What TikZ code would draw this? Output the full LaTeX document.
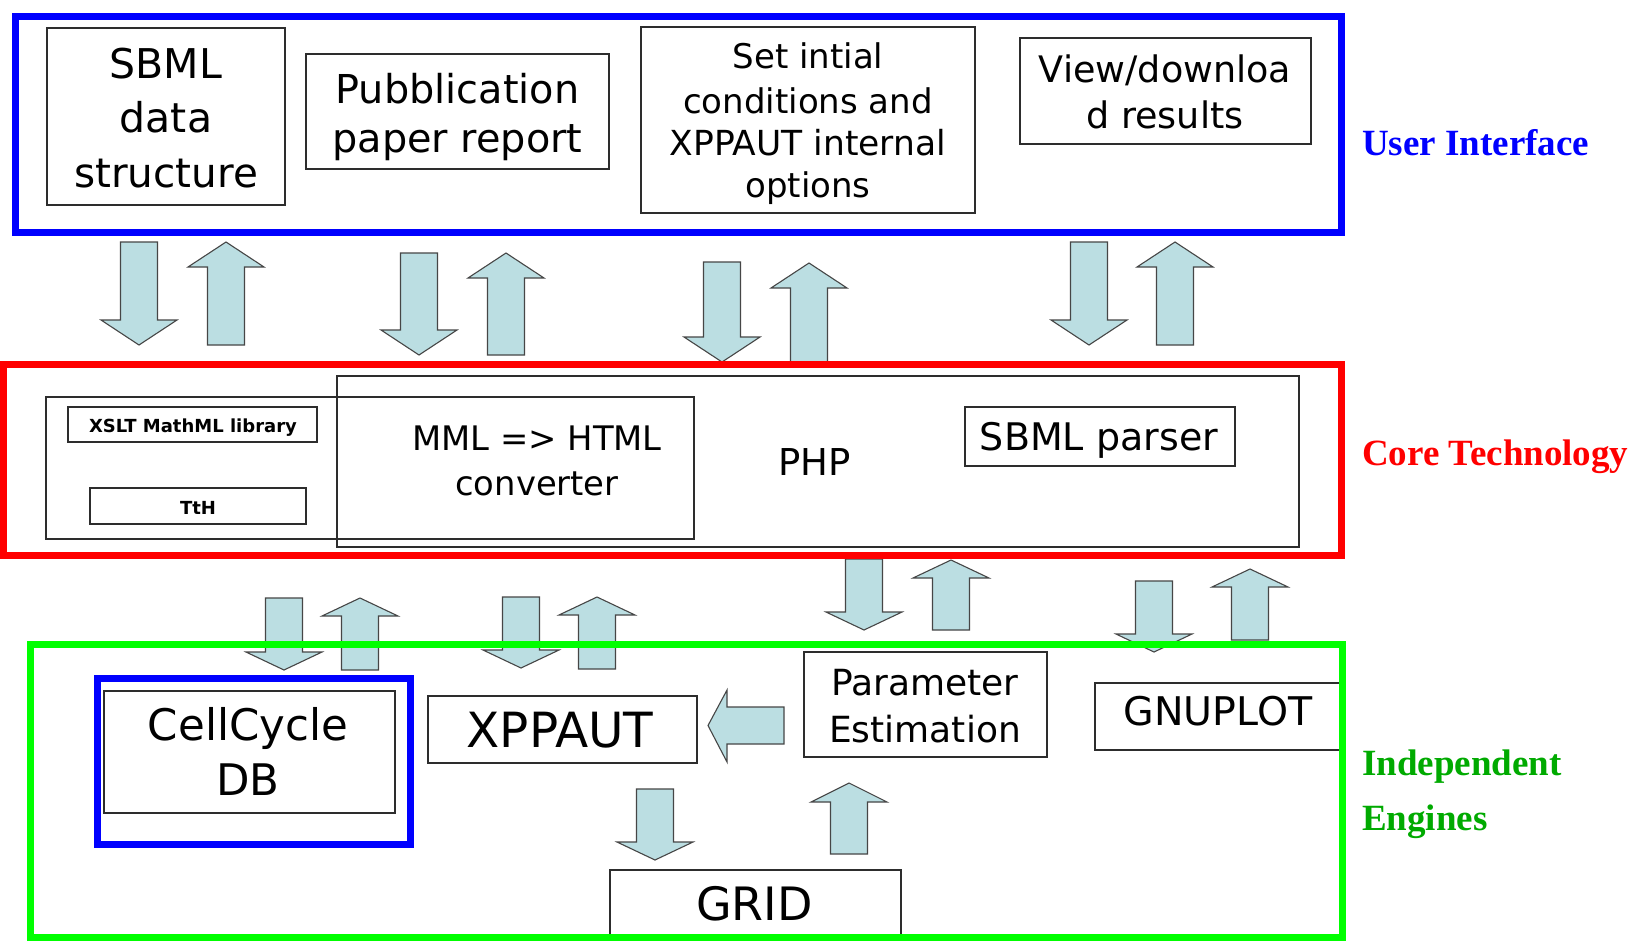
\documentclass[tikz,border=0pt]{standalone}
\usepackage{fontspec}
\setmainfont{DejaVu Sans}
\newfontfamily\tmsfont{Liberation Serif}
\definecolor{arrfill}{RGB}{187,222,226}
\definecolor{arrline}{RGB}{70,70,70}
\definecolor{boxline}{RGB}{45,45,45}
\definecolor{uiblue}{RGB}{0,0,255}
\definecolor{ctred}{RGB}{255,0,0}
\definecolor{iegreen}{RGB}{0,255,0}
\definecolor{ietext}{RGB}{0,170,0}
\newcommand\fsz[1]{\fontsize{#1}{#1}\selectfont}
\newcommand\txtline[5]{\node[anchor=base,inner sep=0pt,font={#4}] (#1) at (#2,#3) {#5};}
% down arrow: cx, top, tip, head length
\newcommand\arrdown[4]{\path[blockarr] (#1-18.5,#2) -- (#1+18.5,#2) -- (#1+18.5,#3-#4) -- (#1+38,#3-#4) -- (#1,#3) -- (#1-38,#3-#4) -- (#1-18.5,#3-#4) -- cycle;}
% up arrow: cx, bottom, tip, head length
\newcommand\arrup[4]{\path[blockarr] (#1-18.5,#2) -- (#1+18.5,#2) -- (#1+18.5,#3+#4) -- (#1+38,#3+#4) -- (#1,#3) -- (#1-38,#3+#4) -- (#1-18.5,#3+#4) -- cycle;}
\tikzset{
  box/.style={draw=boxline,line width=1.4pt,inner sep=0pt,rectangle},
  blockarr/.style={fill=arrfill,draw=arrline,line width=1.1pt,line join=miter},
  frame/.style={line width=7pt},
  lbl/.style={anchor=base west,inner sep=0pt,font={\tmsfont\bfseries\fsz{37}}}
}
\begin{document}
\begin{tikzpicture}[x=1pt,y=-1pt]
\useasboundingbox (0,0) rectangle (1637,940);
\fill[white] (0,0) rectangle (1637,940);

% ---------- User interface boxes
\node[box,minimum width=238pt,minimum height=177pt] (sbml) at (166,116.5) {};
\txtline{sbmlA}{166}{78}{\fsz{41}}{SBML}
\txtline{sbmlB}{166}{132}{\fsz{41}}{data}
\txtline{sbmlC}{166}{187}{\fsz{40.5}}{structure}

\node[box,minimum width=303pt,minimum height=115pt] (pub) at (457.5,111.5) {};
\txtline{pubA}{457.5}{103}{\fsz{39.8}}{Pubblication}
\txtline{pubB}{457.5}{152}{\fsz{39.8}}{paper report}

\node[box,minimum width=334pt,minimum height=186pt] (set) at (808,120) {};
\txtline{setA}{808}{68}{\fsz{34}}{Set intial}
\txtline{setB}{808}{113}{\fsz{34}}{conditions and}
\txtline{setC}{808}{155}{\fsz{34.5}}{XPPAUT internal}
\txtline{setD}{808}{197}{\fsz{34}}{options}

\node[box,minimum width=291pt,minimum height=106pt] (view) at (1165.5,91) {};
\txtline{viewA}{1165}{82}{\fsz{36.5}}{View/downloa}
\txtline{viewB}{1165}{128}{\fsz{36.5}}{d results}

% ---------- Core technology boxes
\node[box,minimum width=648pt,minimum height=142pt] (mmlbox) at (370,468) {};
\node[box,minimum width=962pt,minimum height=171pt] (php) at (818,461.5) {};
\node[box,minimum width=249pt,minimum height=35pt] (xslt) at (192.5,424.5) {};
\txtline{xsltT}{193}{432}{\bfseries\fsz{18}}{XSLT MathML library}
\node[box,minimum width=216pt,minimum height=36pt] (tth) at (198,506) {};
\txtline{tthT}{198}{514}{\bfseries\fsz{18}}{TtH}
\txtline{mmlA}{537}{450}{\fsz{33.8}}{MML => HTML}
\txtline{mmlB}{537}{495}{\fsz{33.8}}{converter}
\txtline{phpT}{814.5}{475}{\fsz{37}}{PHP}
\node[box,minimum width=270pt,minimum height=59pt] (parser) at (1100,436.5) {};
\txtline{parserT}{1099}{450}{\fsz{38}}{SBML parser}

% ---------- Independent engines boxes
\node[box,minimum width=291pt,minimum height=122pt] (cell) at (249.5,752) {};
\txtline{cellA}{248}{740}{\fsz{43.5}}{CellCycle}
\txtline{cellB}{248}{795}{\fsz{43.5}}{DB}
\node[box,minimum width=269pt,minimum height=67pt] (xpp) at (562.5,729.5) {};
\txtline{xppT}{560}{747}{\fsz{48.5}}{XPPAUT}
\node[box,minimum width=243pt,minimum height=105pt] (param) at (925.5,704.5) {};
\txtline{paramA}{925}{695}{\fsz{36}}{Parameter}
\txtline{paramB}{925}{742}{\fsz{36}}{Estimation}
\node[box,minimum width=245pt,minimum height=67pt] (gnu) at (1217.5,716.5) {};
\txtline{gnuT}{1218}{725}{\fsz{39.5}}{GNUPLOT}
\node[box,minimum width=291pt,minimum height=67pt] (grid) at (755.5,903.5) {};
\txtline{gridT}{754.5}{920}{\fsz{46}}{GRID}

% ---------- block arrows, row 1
\arrdown{139}{242}{345}{25}
\arrup{226}{345}{242}{25}
\arrdown{419}{253}{355}{25}
\arrup{506}{355}{253}{25}
\arrdown{722}{262}{362}{25}
\arrup{809}{362}{263}{25}
\arrdown{1089}{242}{345}{25}
\arrup{1175}{345}{242}{25}
% row 2
\arrdown{284}{598}{670}{18}
\arrup{360}{670}{598}{18}
\arrdown{521}{597}{668}{18}
\arrup{597}{669}{597}{18}
\arrdown{864}{559}{630}{18}
\arrup{951}{630}{560}{18}
\arrdown{1154}{581}{652}{18}
\arrup{1250}{640}{569}{18}
% engines
\path[blockarr] (784,707) -- (784,744) -- (727,744) -- (727,762) -- (708,725.5) -- (727,690) -- (727,707) -- cycle;
\arrdown{655}{789}{860}{18}
\arrup{849}{854}{783}{19}

% ---------- frames
\draw[frame,draw=uiblue] (15,16) rectangle (1341,232);
\draw[frame,draw=ctred] (3.5,364) rectangle (1341,555);
\draw[frame,draw=iegreen] (30,644) rectangle (1342,937);
\draw[frame,draw=uiblue] (97,678) rectangle (410.5,844);

% ---------- layer labels
\node[lbl,text=uiblue] (uilbl) at (1362,155) {User Interface};
\node[lbl,text=ctred] (ctlbl) at (1362,465) {Core Technology};
\node[lbl,text=ietext] (ielblA) at (1362,775) {Independent};
\node[lbl,text=ietext] (ielblB) at (1362,830) {Engines};
\end{tikzpicture}
\end{document}
